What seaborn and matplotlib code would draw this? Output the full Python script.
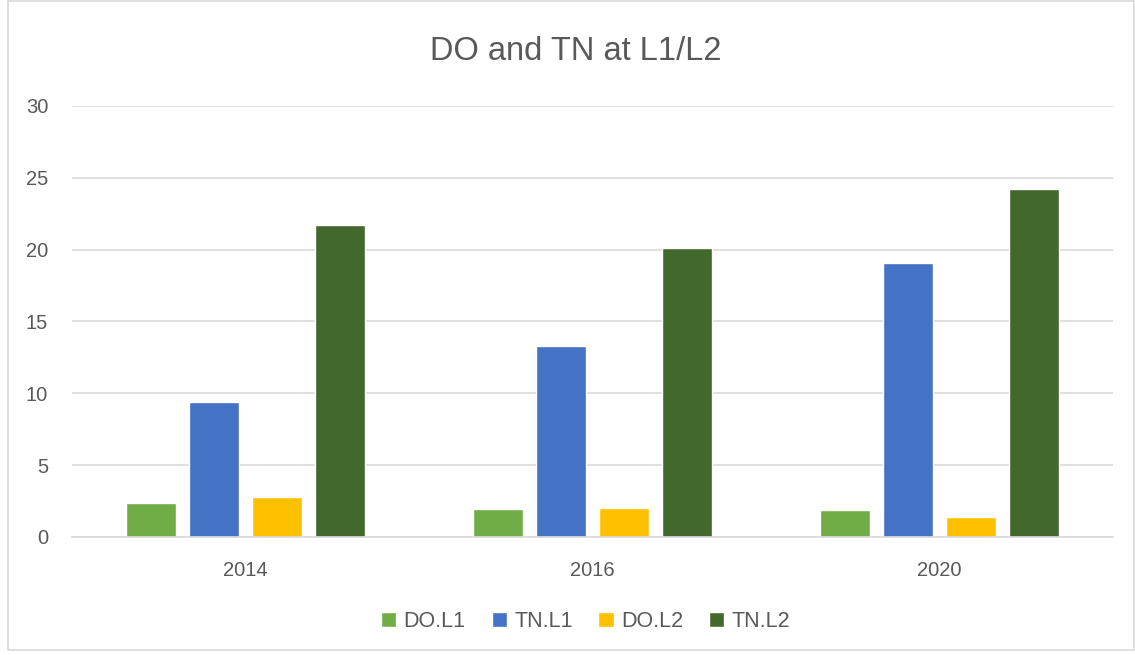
import seaborn as sns
import pandas as pd
import matplotlib.pyplot as plt
from matplotlib.patches import Rectangle

years = ["2014", "2016", "2020"]
series = ["DO.L1", "TN.L1", "DO.L2", "TN.L2"]
do_l1 = [2.33, 1.93, 1.86]
tn_l1 = [9.42, 13.31, 19.10]
do_l2 = [2.77, 2.00, 1.40]
tn_l2 = [21.70, 20.12, 24.21]
colors = ["#70AD47", "#4472C4", "#FFC000", "#43682B"]

rows = []
for name, vals in zip(series, [do_l1, tn_l1, do_l2, tn_l2]):
    for yr, v in zip(years, vals):
        rows.append({"Year": yr, "Series": name, "Value": v})
df = pd.DataFrame(rows)

sns.set_theme(style="white")
plt.rcParams['font.family'] = ['Liberation Sans', 'DejaVu Sans']
grey = "#595959"

fig = plt.figure(figsize=(11.35, 6.55), dpi=100)
ax = fig.add_axes([0.0632, 0.1802, 0.9174, 0.658])

sns.barplot(data=df, x="Year", y="Value", hue="Series", order=years,
            hue_order=series, palette=colors, width=0.726, gap=0.21,
            saturation=1, ax=ax, legend=True)

ax.set_xlim(-0.5, 2.5)
ax.set_ylim(0, 30)
ax.set_yticks(range(0, 31, 5))
ax.yaxis.grid(True, color="#D9D9D9", linewidth=1.2)
ax.set_axisbelow(True)
for s in ["top", "right", "left"]:
    ax.spines[s].set_visible(False)
ax.spines["bottom"].set_color("#D9D9D9")
ax.spines["bottom"].set_linewidth(1.2)
ax.set_xlabel("")
ax.set_ylabel("")
ax.tick_params(axis="y", length=0, labelsize=14.5, labelcolor=grey, pad=17)
ax.tick_params(axis="x", length=0, labelsize=14.5, labelcolor=grey, pad=17)

fig.text(0.5075, 0.922, "DO and TN at L1/L2", ha="center", va="center",
         fontsize=23.5, color=grey)

handles, labels = ax.get_legend_handles_labels()
ax.legend(handles, labels, loc="center", bbox_to_anchor=(0.516, 0.051),
          bbox_transform=fig.transFigure, ncol=4, frameon=False,
          fontsize=15.5, labelcolor=grey, handlelength=0.7, handleheight=0.7,
          handletextpad=0.35, columnspacing=1.2)

fig.patches.append(Rectangle((0.007, 0.008), 0.992, 0.99, transform=fig.transFigure,
                             fill=False, edgecolor="#D9D9D9", linewidth=1.2))

fig.savefig("out.png", dpi=100)
